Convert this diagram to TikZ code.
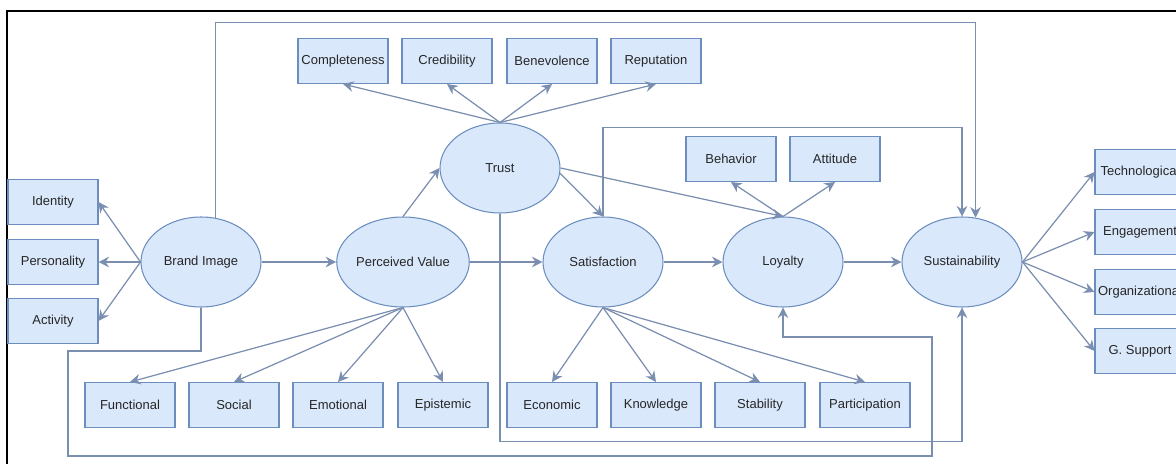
\documentclass[tikz,border=0pt]{standalone}
\usepackage{fontspec}
\setmainfont{Liberation Sans}
\usetikzlibrary{shapes.geometric,arrows.meta}
\definecolor{boxfill}{HTML}{DAE8FC}
\definecolor{boxline}{HTML}{6C8EBF}
\definecolor{linkline}{HTML}{7A8EB0}

\begin{document}
\begin{tikzpicture} [x = 0.02cm, y = -0.02cm,
    box/.style = {draw=boxline, fill=boxfill, line width=0.6pt, minimum width=1.8cm, minimum height=0.9cm, inner sep=0pt, font=\fontsize{7.4}{9}\selectfont, text=black!85},
    elli/.style = {ellipse, draw=boxline, fill=boxfill, line width=0.6pt, minimum width=2.4cm, minimum height=1.8cm, inner sep=0pt, font=\fontsize{7.4}{9}\selectfont, text=black!85},
    link/.style = {draw=linkline, line width=0.7pt, -{Stealth[length=6pt, width=6pt, inset=2pt]}}]
      \useasboundingbox (0,0) rectangle (1176,463);
      \clip (0,0) rectangle (1176,463);

      % 枠
      \draw [line width=1.2pt] (7,480) -- (7,11) -- (1190,11);

      % 潜在変数
      \node [elli] (brand) at (201,262) {Brand Image};
      \node [elli] (pv) at (403,262) {Perceived Value};
      \node [elli] (trust) at (500,168) {Trust};
      \node [elli] (sat) at (603,262) {Satisfaction};
      \node [elli] (loyal) at (783,262) {Loyalty};
      \node [elli] (sus) at (962,262) {Sustainability};

      % 観測変数
      \node [box] (ident) at (53,202) {Identity};
      \node [box] (perso) at (53,262) {Personality};
      \node [box] (activ) at (53,321) {Activity};
      \node [box] (compl) at (343,61) {Completeness};
      \node [box] (credi) at (447,61) {Credibility};
      \node [box] (benev) at (552,61) {Benevolence};
      \node [box] (reput) at (656,61) {Reputation};
      \node [box] (behav) at (731,159) {Behavior};
      \node [box] (attit) at (835,159) {Attitude};
      \node [box] (funct) at (130,405) {Functional};
      \node [box] (socia) at (234,405) {Social};
      \node [box] (emoti) at (338,405) {Emotional};
      \node [box] (epist) at (443,405) {Epistemic};
      \node [box] (econo) at (552,405) {Economic};
      \node [box] (knowl) at (656,405) {Knowledge};
      \node [box] (stabi) at (760,405) {Stability};
      \node [box] (parti) at (865,405) {Participation};
      \node [box] (techn) at (1140,172) {Technological};
      \node [box] (engag) at (1140,232) {Engagement};
      \node [box] (organ) at (1140,292) {Organizational};
      \node [box] (gsupp) at (1140,351) {G. Support};

      % 構造パス
      \draw [link] (brand) -- (pv);
      \draw [link] (pv) -- (sat);
      \draw [link] (sat) -- (loyal);
      \draw [link] (loyal) -- (sus);
      \draw [link] (pv.north) -- (trust.west);
      \draw [link] (trust.-5) -- (sat.north);
      \draw [link] (trust.east) -- (loyal.north);
      \draw [link] (brand.72) -- ++(0,-195) -| (sus.73);
      \draw [link] (sat.north) -- ++(0,-89) -| (sus.north);
      \draw [link] (trust.south) -- ++(0,228) -| (sus.south);
      \draw [link] (brand.south) |- (68,351) |- (932,456) -- (932,337) -| (loyal.south);

      % 測定パス
      \foreach \b in {ident, perso, activ} \draw [link] (brand.west) -- (\b.east);
      \foreach \b in {compl, credi, benev, reput} \draw [link] (trust.north) -- (\b.south);
      \foreach \b in {behav, attit} \draw [link] (loyal.north) -- (\b.south);
      \foreach \b in {funct, socia, emoti, epist} \draw [link] (pv.south) -- (\b.north);
      \foreach \b in {econo, knowl, stabi, parti} \draw [link] (sat.south) -- (\b.north);
      \foreach \b in {techn, engag, organ, gsupp} \draw [link] (sus.east) -- (\b.west);
    \end{tikzpicture}
\end{document}
